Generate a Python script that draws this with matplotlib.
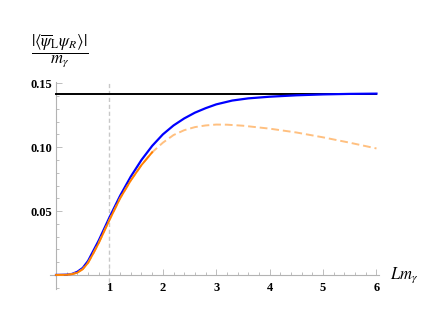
#!/usr/bin/env python3
"""
Chiral condensate |<psibar_L psi_R>| / m_gamma versus L m_gamma.
"""

import numpy as np
import matplotlib
matplotlib.use("Agg")
import matplotlib.pyplot as plt
from matplotlib.ticker import MultipleLocator, FixedLocator

# Data
plateau = 0.142  # asymptotic value (black line)

x_blue = [0.0, 0.2, 0.3, 0.4, 0.5, 0.6, 0.7, 0.8, 0.9, 1.0, 1.2, 1.4, 1.6, 1.8,
          2.0, 2.2, 2.4, 2.6, 2.8, 3.0, 3.3, 3.6, 4.0, 4.5, 5.0, 5.5, 6.0]
y_blue = [0.0, 0.0002, 0.0008, 0.0025, 0.0055, 0.011, 0.019, 0.027, 0.036, 0.045,
          0.062, 0.077, 0.090, 0.101, 0.110, 0.117, 0.1225, 0.127, 0.1305, 0.1335,
          0.1365, 0.1382, 0.1395, 0.1406, 0.1413, 0.1417, 0.1419]

x_orange = [0.0, 0.2, 0.3, 0.4, 0.5, 0.6, 0.7, 0.8, 0.9, 1.0, 1.2, 1.4, 1.6, 1.8]
y_orange = [0.0, 0.0001, 0.0006, 0.0018, 0.0045, 0.0095, 0.017, 0.025, 0.034, 0.043,
            0.060, 0.074, 0.086, 0.096]

x_dashed = [0.0, 0.2, 0.3, 0.4, 0.5, 0.6, 0.7, 0.8, 0.9, 1.0, 1.2, 1.4, 1.6, 1.8,
            2.0, 2.2, 2.4, 2.6, 2.8, 3.0, 3.2, 3.5, 4.0, 4.5, 5.0, 5.5, 6.0]
y_dashed = [0.0, 0.0001, 0.0006, 0.0018, 0.0045, 0.0095, 0.017, 0.025, 0.034, 0.043,
            0.060, 0.074, 0.086, 0.096, 0.1035, 0.1095, 0.1133, 0.1157, 0.117, 0.1177,
            0.1176, 0.1168, 0.1145, 0.1115, 0.1077, 0.1035, 0.099]

x_ticks = [1, 2, 3, 4, 5, 6]
y_ticks = [0.05, 0.10, 0.15]
y_ticklabels = ['0.05', '0.10', '0.15']

plt.rcParams['mathtext.fontset'] = 'stix'
axis_gray = '#b3b3b3'

fig = plt.figure(figsize=(4.36, 3.27), dpi=100)
ax = fig.add_axes([0.1138, 0.1162, 0.7546, 0.633])

# Curves
ax.axvline(1.0, ymin=0, ymax=1, color='#c8c8c8', lw=1.0, ls=(0, (3, 2)), zorder=1)
ax.plot([0, 6], [plateau, plateau], color='black', lw=1.4, zorder=3)
ax.plot(x_blue, y_blue, color='#0000ff', lw=1.6, zorder=4)
ax.plot(x_dashed, y_dashed, color='#ffc080', lw=1.4, ls=(0, (4, 2)), zorder=4)
ax.plot(x_orange, y_orange, color='#ff8000', lw=1.4, zorder=5)

ax.set_xlim(-0.12, 6.04)
ax.set_ylim(-0.011, 0.151)

# Mathematica-style axes crossing at the origin
for side in ['top', 'right']:
    ax.spines[side].set_visible(False)
ax.spines['left'].set_position(('data', 0))
ax.spines['bottom'].set_position(('data', 0))
for side in ['left', 'bottom']:
    ax.spines[side].set_color(axis_gray)
    ax.spines[side].set_linewidth(0.8)

ax.xaxis.set_major_locator(FixedLocator(x_ticks))
ax.xaxis.set_minor_locator(MultipleLocator(0.2))
ax.yaxis.set_major_locator(FixedLocator(y_ticks))
ax.yaxis.set_minor_locator(MultipleLocator(0.01))
ax.set_yticklabels(y_ticklabels)

ax.tick_params(which='both', direction='in', color=axis_gray, width=0.6)
ax.tick_params(which='major', length=4)
ax.tick_params(which='minor', length=2)
ax.tick_params(axis='x', pad=5)
ax.tick_params(axis='y', pad=3)
for lab in ax.get_xticklabels() + ax.get_yticklabels():
    lab.set_fontfamily('Liberation Serif')
    lab.set_fontweight('bold')
    lab.set_fontsize(9)

# Axis labels
ax.text(6.25, 0.0, r'$Lm_\gamma$', fontsize=12, ha='left', va='center')
fig.text(59.5 / 436, 1 - 51 / 327,
         r'$\dfrac{|\langle\overline{\psi}_{\mathrm{L}}\psi_R\rangle|}{m_\gamma}$',
         fontsize=12, ha='center', va='center')

plt.savefig('out.png', dpi=100)
